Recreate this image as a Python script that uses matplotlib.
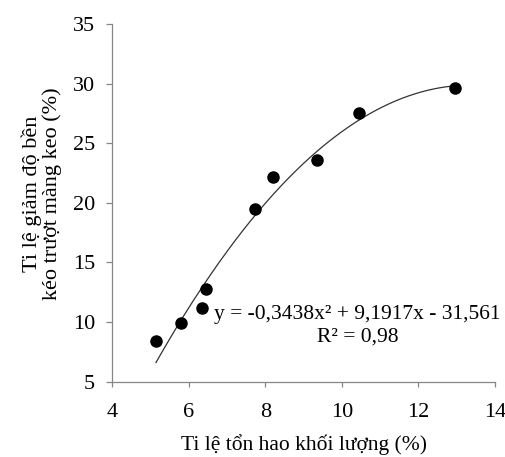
import numpy as np
import matplotlib
matplotlib.use("Agg")
import matplotlib.pyplot as plt

plt.rcParams['font.family'] = ['Liberation Serif', 'DejaVu Serif']

# Data
x_loss = [5.14, 5.80, 6.35, 6.44, 7.73, 8.20, 9.36, 10.44, 12.96]
y_reduction = [8.4, 9.9, 11.2, 12.8, 19.5, 22.2, 23.6, 27.5, 29.6]
coef = [-0.3438, 9.1917, -31.561]
x_ticks = [4, 6, 8, 10, 12, 14]
y_ticks = [5, 10, 15, 20, 25, 30, 35]
eq_text = "y = -0,3438x² + 9,1917x - 31,561\nR² = 0,98"

fig = plt.figure(figsize=(5.05, 4.57), dpi=100)
ax = fig.add_axes([0.2224, 0.1648, 0.7578, 0.7827])

xs = np.linspace(min(x_loss), max(x_loss), 200)
ax.plot(xs, np.polyval(coef, xs), color='#333333', lw=0.9)
ax.plot(x_loss, y_reduction, 'o', color='black', markersize=8)

ax.set_xlim(4, 14)
ax.set_ylim(5, 35)
ax.set_xticks(x_ticks)
ax.set_yticks(y_ticks)
for s in ['top', 'right']:
    ax.spines[s].set_visible(False)
for s in ['left', 'bottom']:
    ax.spines[s].set_color('#868686')
    ax.spines[s].set_linewidth(0.9)
ax.tick_params(axis='both', colors='#868686', labelcolor='black', labelsize=16,
               width=0.9, direction='out')
ax.tick_params(axis='x', length=3.5, pad=12)
ax.tick_params(axis='y', length=4.5, pad=8)

ax.set_xlabel("Ti lệ tổn hao khối lượng (%)", fontsize=15.5)
ax.xaxis.set_label_coords(0.5, -0.147)
ax.set_ylabel("Ti lệ giảm độ bền\nkéo trượt màng keo (%)", fontsize=16,
              linespacing=1.0)
ax.yaxis.set_label_coords(-0.131, 0.525)

ax.text(0.641, 0.155, eq_text, transform=ax.transAxes, ha='center', va='center',
        fontsize=15.5, linespacing=1.25)

fig.savefig("out.png", dpi=100)
